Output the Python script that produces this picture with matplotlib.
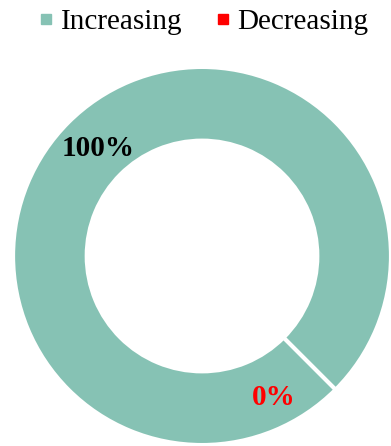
import numpy as np
import matplotlib.pyplot as plt
from matplotlib.lines import Line2D

labels = ["Increasing", "Decreasing"]
values = [100, 0]
pct_labels = ["100%", "0%"]
colors = ["#86C2B4", "#FF0000"]
text_colors = ["black", "red"]

plt.rcParams['font.family'] = ['Liberation Serif', 'DejaVu Serif']

fig = plt.figure(figsize=(3.91, 4.46), dpi=100)
ax = fig.add_axes([0, 0, 1, 1])

# donut, drawn clockwise from the lower-right gap
wedges, _ = ax.pie(values, colors=colors, startangle=-45, counterclock=False,
                   radius=1, wedgeprops=dict(width=0.39, edgecolor="white", linewidth=3))
wedges[1].set_facecolor("white")

# percentage labels
ax.text(-0.55, 0.57, pct_labels[0], ha="center", va="center",
        fontsize=21, fontweight="bold", color=text_colors[0])
ax.text(0.38, -0.75, pct_labels[1], ha="center", va="center",
        fontsize=21, fontweight="bold", color=text_colors[1])

ax.set_xlim(-1.069, 1.0)
ax.set_ylim(-1.005, 1.354)
ax.set_aspect("auto")
ax.axis("off")

handles = [Line2D([], [], marker="s", ls="", color=c, markersize=7) for c in colors]
fig.legend(handles, labels, loc="center", bbox_to_anchor=(0.515, 0.951), ncol=2,
           frameon=False, fontsize=21, handletextpad=0.1, columnspacing=1.0,
           handlelength=0.8)

fig.savefig("out.png", dpi=100)
